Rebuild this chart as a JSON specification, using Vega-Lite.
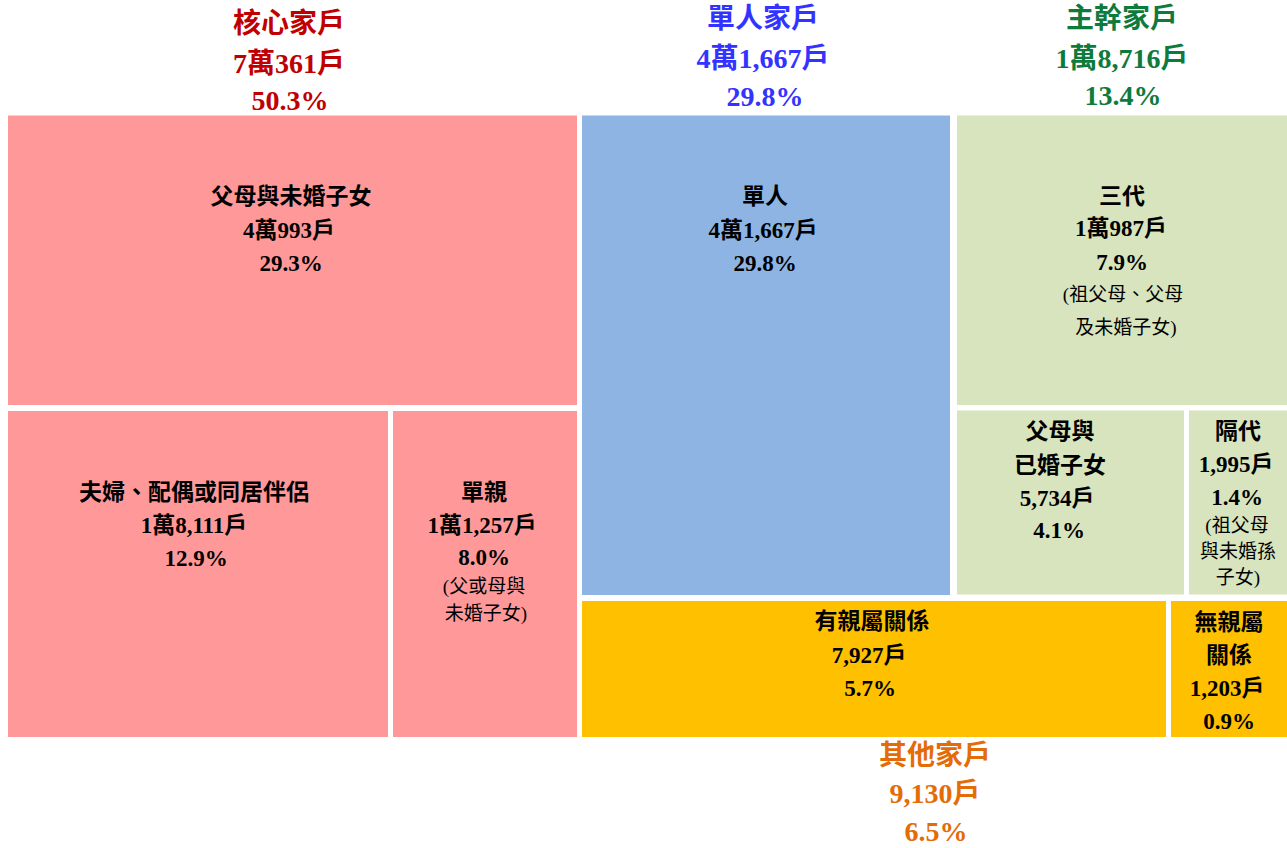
{
  "$schema": "https://vega.github.io/schema/vega-lite/v6.json",
  "autosize": {"type": "fit", "contains": "padding"},
  "width": 1287,
  "height": 848,
  "padding": 0,
  "background": "white",
  "config": {"view": {"stroke": null}},
  "datasets": {
    "rects": [
      {"name": "父母與未婚子女", "group": "核心家戶", "x0": 8, "x1": 577, "y0": 115.5, "y1": 405},
      {"name": "夫婦、配偶或同居伴侶", "group": "核心家戶", "x0": 8, "x1": 388, "y0": 411, "y1": 737},
      {"name": "單親", "group": "核心家戶", "x0": 393, "x1": 577, "y0": 411, "y1": 737},
      {"name": "單人", "group": "單人家戶", "x0": 582, "x1": 950, "y0": 115.5, "y1": 595},
      {"name": "三代", "group": "主幹家戶", "x0": 957, "x1": 1287, "y0": 115.5, "y1": 405},
      {"name": "父母與已婚子女", "group": "主幹家戶", "x0": 957, "x1": 1184, "y0": 410.5, "y1": 594.5},
      {"name": "隔代", "group": "主幹家戶", "x0": 1189, "x1": 1287, "y0": 410.5, "y1": 594.5},
      {"name": "有親屬關係", "group": "其他家戶", "x0": 582, "x1": 1166, "y0": 601, "y1": 737},
      {"name": "無親屬關係", "group": "其他家戶", "x0": 1171, "x1": 1287, "y0": 601, "y1": 737}
    ],
    "labels": [
      {"group": "核心家戶", "role": "title", "text": "核心家戶", "lx": 289, "ly": 25},
      {"group": "核心家戶", "role": "title", "text": "7萬361戶", "lx": 289, "ly": 65},
      {"group": "核心家戶", "role": "title", "text": "50.3%", "lx": 290, "ly": 102},
      {"group": "單人家戶", "role": "title", "text": "單人家戶", "lx": 763, "ly": 20},
      {"group": "單人家戶", "role": "title", "text": "4萬1,667戶", "lx": 763, "ly": 60},
      {"group": "單人家戶", "role": "title", "text": "29.8%", "lx": 765, "ly": 98},
      {"group": "主幹家戶", "role": "title", "text": "主幹家戶", "lx": 1122, "ly": 20},
      {"group": "主幹家戶", "role": "title", "text": "1萬8,716戶", "lx": 1122, "ly": 60},
      {"group": "主幹家戶", "role": "title", "text": "13.4%", "lx": 1123, "ly": 97},
      {"group": "其他家戶", "role": "title", "text": "其他家戶", "lx": 935, "ly": 757},
      {"group": "其他家戶", "role": "title", "text": "9,130戶", "lx": 935, "ly": 795},
      {"group": "其他家戶", "role": "title", "text": "6.5%", "lx": 936, "ly": 833},
      {"group": "核心家戶", "role": "label", "text": "父母與未婚子女", "lx": 291, "ly": 197},
      {"group": "核心家戶", "role": "label", "text": "4萬993戶", "lx": 289, "ly": 231},
      {"group": "核心家戶", "role": "label", "text": "29.3%", "lx": 291, "ly": 264},
      {"group": "單人家戶", "role": "label", "text": "單人", "lx": 765, "ly": 197},
      {"group": "單人家戶", "role": "label", "text": "4萬1,667戶", "lx": 763, "ly": 231},
      {"group": "單人家戶", "role": "label", "text": "29.8%", "lx": 765, "ly": 264},
      {"group": "主幹家戶", "role": "label", "text": "三代", "lx": 1122, "ly": 197},
      {"group": "主幹家戶", "role": "label", "text": "1萬987戶", "lx": 1121, "ly": 229},
      {"group": "主幹家戶", "role": "label", "text": "7.9%", "lx": 1122, "ly": 263},
      {"group": "主幹家戶", "role": "note", "text": "(祖父母、父母", "lx": 1123, "ly": 295},
      {"group": "主幹家戶", "role": "note", "text": "及未婚子女)", "lx": 1126, "ly": 328},
      {"group": "核心家戶", "role": "label", "text": "夫婦、配偶或同居伴侶", "lx": 194, "ly": 493},
      {"group": "核心家戶", "role": "label", "text": "1萬8,111戶", "lx": 194, "ly": 526},
      {"group": "核心家戶", "role": "label", "text": "12.9%", "lx": 196, "ly": 559},
      {"group": "核心家戶", "role": "label", "text": "單親", "lx": 484, "ly": 493},
      {"group": "核心家戶", "role": "label", "text": "1萬1,257戶", "lx": 482, "ly": 526},
      {"group": "核心家戶", "role": "label", "text": "8.0%", "lx": 484, "ly": 558},
      {"group": "核心家戶", "role": "note", "text": "(父或母與", "lx": 484, "ly": 587},
      {"group": "核心家戶", "role": "note", "text": "未婚子女)", "lx": 486, "ly": 614},
      {"group": "主幹家戶", "role": "label", "text": "父母與", "lx": 1060, "ly": 432},
      {"group": "主幹家戶", "role": "label", "text": "已婚子女", "lx": 1060, "ly": 466},
      {"group": "主幹家戶", "role": "label", "text": "5,734戶", "lx": 1057, "ly": 499},
      {"group": "主幹家戶", "role": "label", "text": "4.1%", "lx": 1059, "ly": 531},
      {"group": "主幹家戶", "role": "label", "text": "隔代", "lx": 1238, "ly": 432},
      {"group": "主幹家戶", "role": "label", "text": "1,995戶", "lx": 1236, "ly": 465},
      {"group": "主幹家戶", "role": "label", "text": "1.4%", "lx": 1237, "ly": 498},
      {"group": "主幹家戶", "role": "note", "text": "(祖父母", "lx": 1237, "ly": 526},
      {"group": "主幹家戶", "role": "note", "text": "與未婚孫", "lx": 1238, "ly": 552},
      {"group": "主幹家戶", "role": "note", "text": "子女)", "lx": 1238, "ly": 578},
      {"group": "其他家戶", "role": "label", "text": "有親屬關係", "lx": 872, "ly": 622},
      {"group": "其他家戶", "role": "label", "text": "7,927戶", "lx": 869, "ly": 656},
      {"group": "其他家戶", "role": "label", "text": "5.7%", "lx": 870, "ly": 689},
      {"group": "其他家戶", "role": "label", "text": "無親屬", "lx": 1229, "ly": 623},
      {"group": "其他家戶", "role": "label", "text": "關係", "lx": 1229, "ly": 656},
      {"group": "其他家戶", "role": "label", "text": "1,203戶", "lx": 1227, "ly": 689},
      {"group": "其他家戶", "role": "label", "text": "0.9%", "lx": 1229, "ly": 722}
    ]
  },
  "layer": [
    {
      "data": {"name": "rects"},
      "mark": {"type": "rect"},
      "encoding": {
        "x": {"field": "x0", "type": "quantitative", "scale": {"domain": [0, 1287], "nice": false, "zero": false}, "axis": null},
        "x2": {"field": "x1"},
        "y": {"field": "y0", "type": "quantitative", "scale": {"domain": [0, 848], "nice": false, "zero": false, "reverse": true}, "axis": null},
        "y2": {"field": "y1"},
        "color": {
          "field": "group", "type": "nominal", "legend": null,
          "scale": {"domain": ["核心家戶", "單人家戶", "主幹家戶", "其他家戶"], "range": ["#FF9999", "#8EB4E3", "#D7E4BD", "#FFC000"]}
        },
        "tooltip": [{"field": "group"}, {"field": "name"}]
      }
    },
    {
      "data": {"name": "labels"},
      "transform": [{"filter": "datum.role === 'title'"}],
      "mark": {"type": "text", "align": "center", "baseline": "middle", "fontSize": 28, "fontWeight": "bold", "font": "Liberation Serif, Noto Sans CJK TC"},
      "encoding": {
        "x": {"field": "lx", "type": "quantitative"},
        "y": {"field": "ly", "type": "quantitative"},
        "text": {"field": "text"},
        "color": {
          "field": "group", "type": "nominal", "legend": null,
          "scale": {"domain": ["核心家戶", "單人家戶", "主幹家戶", "其他家戶"], "range": ["#C00000", "#3333FF", "#0E7A3C", "#E36C09"]}
        }
      }
    },
    {
      "data": {"name": "labels"},
      "transform": [{"filter": "datum.role === 'label'"}],
      "mark": {"type": "text", "align": "center", "baseline": "middle", "fontSize": 23, "fontWeight": "bold", "font": "Liberation Serif, Noto Sans CJK TC", "color": "#000000"},
      "encoding": {
        "x": {"field": "lx", "type": "quantitative"},
        "y": {"field": "ly", "type": "quantitative"},
        "text": {"field": "text"}
      }
    },
    {
      "data": {"name": "labels"},
      "transform": [{"filter": "datum.role === 'note'"}],
      "mark": {"type": "text", "align": "center", "baseline": "middle", "fontSize": 19, "fontWeight": "normal", "font": "Liberation Serif, Noto Sans CJK TC", "color": "#000000"},
      "encoding": {
        "x": {"field": "lx", "type": "quantitative"},
        "y": {"field": "ly", "type": "quantitative"},
        "text": {"field": "text"}
      }
    }
  ],
  "resolve": {"scale": {"color": "independent"}}
}
